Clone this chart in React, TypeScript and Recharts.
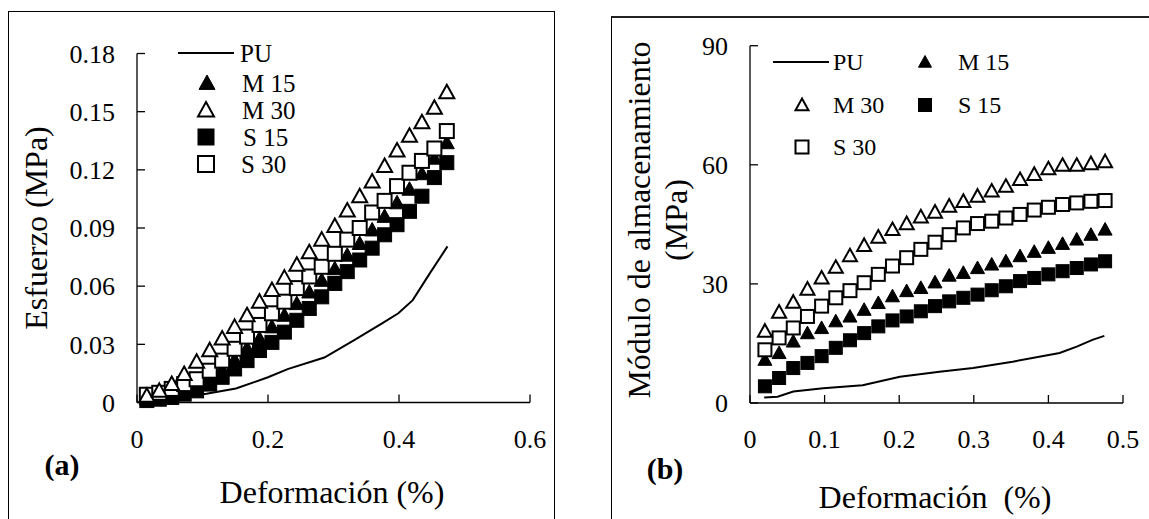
import React from "react";
import { ComposedChart, XAxis, YAxis, Scatter, Line } from "recharts";

const FONT = "'Liberation Serif', 'Times New Roman', serif";

// (a) Esfuerzo vs deformación
const xA = [0.015, 0.034, 0.053, 0.072, 0.091, 0.111, 0.13, 0.149, 0.168, 0.187, 0.206, 0.225, 0.244, 0.263, 0.282, 0.302, 0.321, 0.34, 0.359, 0.378, 0.397, 0.416, 0.435, 0.454, 0.473];
const m15A = [0.002, 0.003, 0.005, 0.007, 0.01, 0.013, 0.017, 0.022, 0.028, 0.033, 0.039, 0.045, 0.051, 0.057, 0.063, 0.069, 0.076, 0.082, 0.089, 0.096, 0.103, 0.11, 0.118, 0.126, 0.134];
const m30A = [0.0035, 0.006, 0.0095, 0.0147, 0.021, 0.027, 0.033, 0.039, 0.045, 0.052, 0.058, 0.0644, 0.071, 0.0775, 0.084, 0.091, 0.099, 0.1064, 0.114, 0.122, 0.13, 0.1376, 0.1445, 0.152, 0.16];
const s15A = [0.001, 0.0017, 0.0026, 0.0043, 0.006, 0.0095, 0.013, 0.0173, 0.0216, 0.0268, 0.031, 0.0363, 0.0424, 0.0485, 0.0545, 0.0614, 0.0675, 0.0735, 0.0796, 0.0865, 0.0917, 0.0986, 0.1064, 0.116, 0.1237];
const s30A = [0.004, 0.005, 0.007, 0.0095, 0.012, 0.0164, 0.0216, 0.0277, 0.034, 0.04, 0.046, 0.052, 0.059, 0.065, 0.07, 0.0767, 0.084, 0.09, 0.098, 0.104, 0.1116, 0.1185, 0.1246, 0.131, 0.14];
const puAx = [0.016, 0.04, 0.072, 0.106, 0.151, 0.2, 0.23, 0.286, 0.331, 0.376, 0.399, 0.421, 0.447, 0.474];
const puAy = [0.001, 0.0022, 0.0032, 0.0045, 0.0072, 0.013, 0.0172, 0.0232, 0.032, 0.0412, 0.046, 0.0528, 0.0666, 0.0805];
const xTicksA = [0, 0.2, 0.4, 0.6];
const yTicksA = [0, 0.03, 0.06, 0.09, 0.12, 0.15, 0.18];

// (b) Módulo de almacenamiento vs deformación
const xB = [0.02, 0.039, 0.058, 0.077, 0.096, 0.115, 0.134, 0.153, 0.172, 0.191, 0.21, 0.229, 0.248, 0.267, 0.286, 0.305, 0.324, 0.343, 0.362, 0.381, 0.4, 0.419, 0.438, 0.457, 0.476];
const m15B = [10.9, 12.6, 15.5, 17.6, 18.9, 20.6, 21.8, 23.5, 25.2, 26.9, 28.2, 29.0, 30.4, 32.1, 32.8, 34.0, 34.9, 35.7, 37.0, 38.1, 39.1, 40.1, 41.2, 42.4, 43.7];
const m30B = [18.1, 22.9, 25.4, 28.7, 31.5, 34.2, 37.1, 39.7, 41.8, 43.7, 45.2, 46.9, 48.1, 49.6, 50.8, 52.1, 53.4, 54.6, 56.3, 57.6, 59.0, 59.9, 59.9, 60.3, 60.8];
const s15B = [4.2, 6.3, 8.8, 10.1, 11.8, 13.9, 15.8, 17.6, 19.3, 20.8, 21.8, 23.1, 24.4, 25.6, 26.5, 27.3, 28.4, 29.4, 30.7, 31.5, 32.4, 33.2, 34.0, 34.9, 35.7];
const s30B = [13.4, 16.4, 18.9, 21.8, 24.4, 26.5, 28.3, 30.3, 32.4, 34.5, 36.6, 38.7, 40.5, 42.4, 44.1, 45.2, 45.8, 46.6, 47.5, 48.6, 49.3, 50.0, 50.4, 50.8, 51.0];
const puBx = [0.019, 0.037, 0.058, 0.098, 0.151, 0.201, 0.254, 0.299, 0.352, 0.415, 0.438, 0.459, 0.475];
const puBy = [1.4, 1.6, 2.9, 3.7, 4.5, 6.6, 7.9, 8.8, 10.4, 12.6, 14.2, 15.9, 16.9];
const xTicksB = [0, 0.1, 0.2, 0.3, 0.4, 0.5];
const yTicksB = [0, 30, 60, 90];

const pts = (xs: number[], ys: number[]) => xs.map((x, i) => ({ x, y: ys[i] }));

const triangle = (filled: boolean, s: number) => (p: any) => (
  <polygon
    points={`${p.cx},${p.cy - s} ${p.cx + s},${p.cy + s * 0.8} ${p.cx - s},${p.cy + s * 0.8}`}
    fill={filled ? "#000" : "#fff"}
    stroke="#000"
    strokeWidth={filled ? 1 : 2}
  />
);
const square = (filled: boolean, s: number) => (p: any) => (
  <rect
    x={p.cx - s}
    y={p.cy - s}
    width={s * 2}
    height={s * 2}
    fill={filled ? "#000" : "#fff"}
    stroke="#000"
    strokeWidth={filled ? 1 : 2}
  />
);

const axisLine = { stroke: "#000", strokeWidth: 1.3 };
const tickStyle = { fill: "#000", fontSize: 26, fontFamily: FONT };

function Marker({ kind, x, y, s }: { kind: string; x: number; y: number; s: number }) {
  if (kind === "line") return <line x1={x - 28} x2={x + 28} y1={y} y2={y} stroke="#000" strokeWidth={2} />;
  if (kind.startsWith("tri")) {
    const filled = kind === "triF";
    return (
      <polygon
        points={`${x},${y - s} ${x + s},${y + s * 0.8} ${x - s},${y + s * 0.8}`}
        fill={filled ? "#000" : "#fff"}
        stroke="#000"
        strokeWidth={filled ? 1 : 2}
      />
    );
  }
  const filled = kind === "sqF";
  return <rect x={x - s} y={y - s} width={s * 2} height={s * 2} fill={filled ? "#000" : "#fff"} stroke="#000" strokeWidth={filled ? 1 : 2} />;
}

const legendA = [
  { kind: "line", name: "PU", mx: 206, tx: 240, y: 53 },
  { kind: "triF", name: "M 15", mx: 207, tx: 242, y: 83 },
  { kind: "triO", name: "M 30", mx: 206, tx: 242, y: 110 },
  { kind: "sqF", name: "S 15", mx: 206, tx: 243, y: 137 },
  { kind: "sqO", name: "S 30", mx: 206, tx: 241, y: 164 },
];
const legendB = [
  { kind: "line", name: "PU", mx: 801, tx: 833, y: 62 },
  { kind: "triF", name: "M 15", mx: 925, tx: 958, y: 62 },
  { kind: "triO", name: "M 30", mx: 802, tx: 833, y: 105 },
  { kind: "sqF", name: "S 15", mx: 925, tx: 958, y: 105 },
  { kind: "sqO", name: "S 30", mx: 802, tx: 833, y: 147 },
];

export default function App() {
  return (
    <div style={{ position: "absolute", left: 0, top: 0, width: 1149, height: 519, overflow: "hidden", background: "#fff" }}>
      <div style={{ position: "absolute", left: 8, top: 11, width: 547, height: 520, border: "1px solid #000", borderBottom: "none", boxSizing: "border-box" }} />
      <div style={{ position: "absolute", left: 611, top: 16, width: 600, height: 520, borderLeft: "1px solid #000", borderTop: "2px solid #222", boxSizing: "border-box" }} />

      <div style={{ position: "absolute", left: 0, top: 0 }}>
        <ComposedChart width={560} height={519} margin={{ top: 53.5, right: 30, bottom: 76.5, left: 77 }}>
          <XAxis type="number" dataKey="x" domain={[0, 0.6]} ticks={xTicksA} interval={0} tickSize={-8} tickMargin={35} height={40} axisLine={axisLine} tickLine={axisLine} tick={tickStyle} />
          <YAxis type="number" dataKey="y" domain={[0, 0.18]} ticks={yTicksA} interval={0} tickSize={-8} tickMargin={30} width={60} axisLine={axisLine} tickLine={axisLine} tick={tickStyle} tickFormatter={(v: number) => (v === 0 ? "0" : v.toFixed(2))} />
          <Line data={pts(puAx, puAy)} dataKey="y" type="linear" dot={false} stroke="#000" strokeWidth={2} isAnimationActive={false} />
          <Scatter data={pts(xA, s15A)} shape={square(true, 7)} isAnimationActive={false} />
          <Scatter data={pts(xA, m15A)} shape={triangle(true, 7.5)} isAnimationActive={false} />
          <Scatter data={pts(xA, s30A)} shape={square(false, 7)} isAnimationActive={false} />
          <Scatter data={pts(xA, m30A)} shape={triangle(false, 7.5)} isAnimationActive={false} />
        </ComposedChart>
      </div>

      <div style={{ position: "absolute", left: 575, top: 0 }}>
        <ComposedChart width={574} height={519} margin={{ top: 45.7, right: 26, bottom: 76, left: 115 }}>
          <XAxis type="number" dataKey="x" domain={[0, 0.5]} ticks={xTicksB} interval={0} tickSize={-8} tickMargin={35} height={40} axisLine={axisLine} tickLine={axisLine} tick={tickStyle} />
          <YAxis type="number" dataKey="y" domain={[0, 90]} ticks={yTicksB} interval={0} tickSize={-8} tickMargin={30} width={60} axisLine={axisLine} tickLine={axisLine} tick={tickStyle} />
          <Line data={pts(puBx, puBy)} dataKey="y" type="linear" dot={false} stroke="#000" strokeWidth={2} isAnimationActive={false} />
          <Scatter data={pts(xB, s15B)} shape={square(true, 6.5)} isAnimationActive={false} />
          <Scatter data={pts(xB, m15B)} shape={triangle(true, 7)} isAnimationActive={false} />
          <Scatter data={pts(xB, s30B)} shape={square(false, 6.5)} isAnimationActive={false} />
          <Scatter data={pts(xB, m30B)} shape={triangle(false, 7)} isAnimationActive={false} />
        </ComposedChart>
      </div>

      <svg width={1149} height={519} style={{ position: "absolute", left: 0, top: 0, pointerEvents: "none" }} fontFamily={FONT} fill="#000">
        {legendA.map((l) => (
          <g key={"a" + l.name}>
            <Marker kind={l.kind} x={l.mx} y={l.y} s={8} />
            <text x={l.tx} y={l.y} fontSize={25} dominantBaseline="central">{l.name}</text>
          </g>
        ))}
        {legendB.map((l) => (
          <g key={"b" + l.name}>
            <Marker kind={l.kind} x={l.mx} y={l.y} s={6.5} />
            <text x={l.tx} y={l.y} fontSize={24} dominantBaseline="central">{l.name}</text>
          </g>
        ))}
        <text transform="translate(36,228) rotate(-90)" textAnchor="middle" dominantBaseline="central" fontSize={32}>Esfuerzo (MPa)</text>
        <text x={332} y={492} textAnchor="middle" dominantBaseline="central" fontSize={32}>Deformación (%)</text>
        <text x={62} y={464} textAnchor="middle" dominantBaseline="central" fontSize={30} fontWeight="bold">(a)</text>
        <text transform="translate(639,220) rotate(-90)" textAnchor="middle" dominantBaseline="central" fontSize={32}>Módulo de almacenamiento</text>
        <text transform="translate(676,220) rotate(-90)" textAnchor="middle" dominantBaseline="central" fontSize={32}>(MPa)</text>
        <text x={935} y={497} textAnchor="middle" dominantBaseline="central" fontSize={32} xmlSpace="preserve">Deformación  (%)</text>
        <text x={665} y={468} textAnchor="middle" dominantBaseline="central" fontSize={30} fontWeight="bold">(b)</text>
      </svg>
    </div>
  );
}
